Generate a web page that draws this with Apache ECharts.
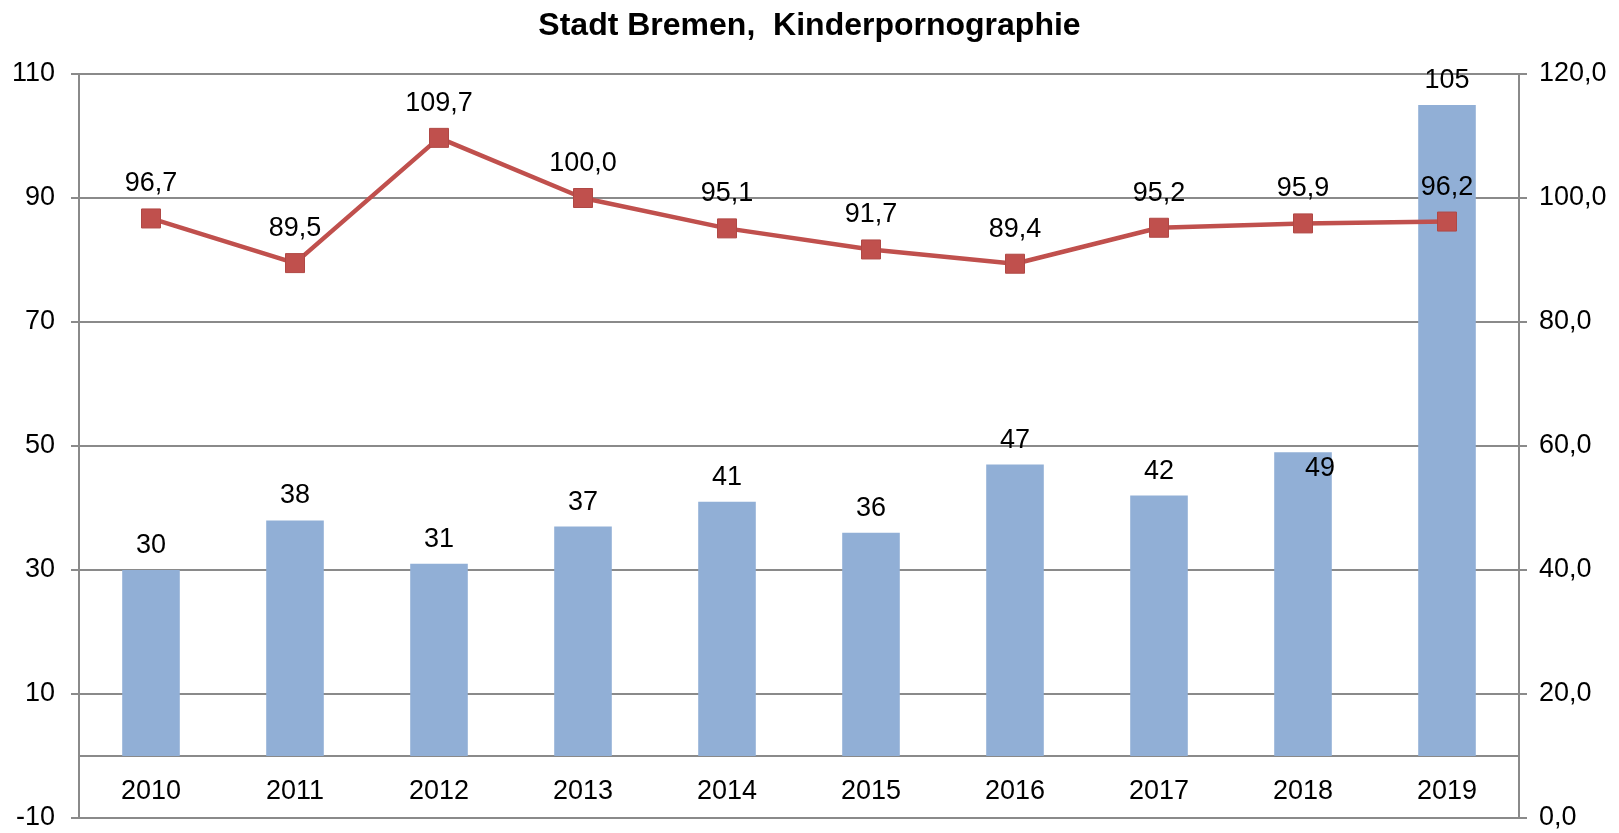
<!DOCTYPE html>
<html>
<head>
<meta charset="utf-8">
<script src="https://cdn.jsdelivr.net/npm/echarts@6/dist/echarts.min.js"></script>
<style>
html,body{margin:0;padding:0;background:#fff;}
#chart{width:1619px;height:833px;}
</style>
</head>
<body>
<div id="chart"></div>
<script>
const titleText = 'Stadt Bremen,  Kinderpornographie';
const years = ['2010','2011','2012','2013','2014','2015','2016','2017','2018','2019'];
const cases = [30, 38, 31, 37, 41, 36, 47, 42, 49, 105];
const rate = [96.7, 89.5, 109.7, 100.0, 95.1, 91.7, 89.4, 95.2, 95.9, 96.2];

const FONT = '"Liberation Sans", Arial, sans-serif';
const FS = 27;
const gridColor = '#8a8a8a';

const barData = cases.map((v, i) => {
  if (years[i] === '2018') {
    return { value: v, label: { position: 'insideTop', distance: 3, offset: [17, 0] } };
  }
  return v;
});

const chart = echarts.init(document.getElementById('chart'), null, { renderer: 'canvas' });
chart.setOption({
  backgroundColor: '#ffffff',
  animation: false,
  title: {
    text: titleText,
    left: 'center',
    top: 5,
    textStyle: { fontFamily: FONT, fontSize: 32, fontWeight: 'bold', color: '#000' }
  },
  grid: { left: 79, right: 100, top: 74, bottom: 15, containLabel: false, outerBoundsMode: 'none' },
  xAxis: {
    type: 'category',
    data: years,
    boundaryGap: true,
    axisLine: { onZero: true, onZeroAxisIndex: 0, lineStyle: { color: gridColor, width: 2 } },
    axisTick: { show: false },
    axisLabel: { fontFamily: FONT, fontSize: FS, color: '#000', margin: -40 },
    splitLine: { show: false }
  },
  yAxis: [
    {
      type: 'value',
      min: -10, max: 110, interval: 20,
      axisLine: { show: true, lineStyle: { color: gridColor, width: 2 } },
      axisTick: { show: true, inside: false, length: 8, lineStyle: { color: gridColor, width: 2 } },
      axisLabel: { fontFamily: FONT, fontSize: FS, color: '#000', margin: 24 },
      splitLine: { show: true, lineStyle: { color: gridColor, width: 2 } }
    },
    {
      type: 'value',
      position: 'right',
      min: 0, max: 120, interval: 20,
      axisLine: { show: true, lineStyle: { color: gridColor, width: 2 } },
      axisTick: { show: true, inside: false, length: 8, lineStyle: { color: gridColor, width: 2 } },
      axisLabel: { fontFamily: FONT, fontSize: FS, color: '#000', margin: 20,
        formatter: v => v.toFixed(1).replace('.', ',') },
      splitLine: { show: false }
    }
  ],
  series: [
    {
      type: 'bar',
      yAxisIndex: 0,
      data: barData,
      barWidth: '40%',
      itemStyle: { color: '#91AFD6' },
      label: { show: true, position: 'top', distance: 11, fontFamily: FONT, fontSize: FS, color: '#000' },
      z: 2
    },
    {
      type: 'line',
      yAxisIndex: 1,
      data: rate,
      symbol: 'rect',
      symbolSize: 19,
      lineStyle: { color: '#C0504D', width: 4.5 },
      itemStyle: { color: '#C0504D', borderColor: '#B04845', borderWidth: 1 },
      label: { show: true, position: 'top', distance: 11, fontFamily: FONT, fontSize: FS, color: '#000',
        formatter: p => p.value.toFixed(1).replace('.', ',') },
      z: 3
    }
  ]
});
</script>
</body>
</html>
